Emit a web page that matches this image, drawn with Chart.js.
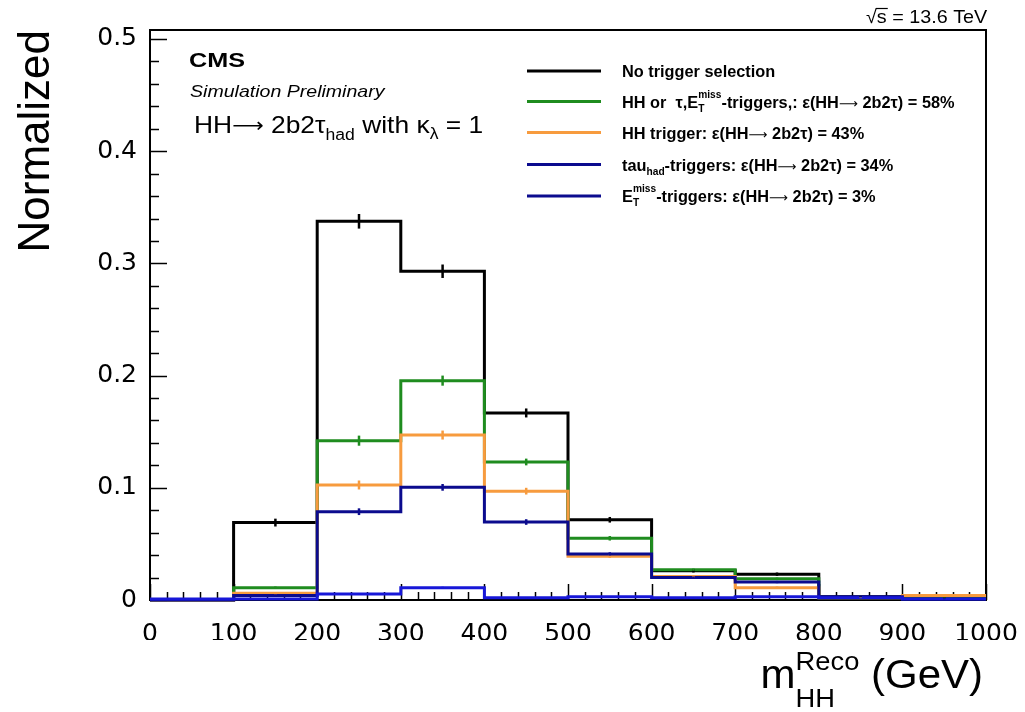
<!DOCTYPE html>
<html><head><meta charset="utf-8">
<script src="https://cdn.jsdelivr.net/npm/chart.js@4/dist/chart.umd.min.js"></script>
<style>html,body{margin:0;padding:0;background:#fff;} #wrap{width:1025px;height:712px;}</style>
</head><body><div id="wrap"><canvas id="c" width="1025" height="712"></canvas></div>
<script>
// ---- data ----
const binEdges = [0,100,200,300,400,500,600,700,800,900,1000];
const noTrigger   = [0, 0.0690, 0.3375, 0.2930, 0.1667, 0.0715, 0.0260, 0.0230, 0.0030, 0.0020];
const hhOrTauMet  = [0, 0.0110, 0.1420, 0.1955, 0.1230, 0.0550, 0.0270, 0.0190, 0.0020, 0.0020];
const hhTrigger   = [0, 0.0060, 0.1025, 0.1470, 0.0970, 0.0390, 0.0210, 0.0110, 0.0020, 0.0040];
const tauTrigger  = [0, 0.0040, 0.0787, 0.1004, 0.0695, 0.0410, 0.0200, 0.0160, 0.0030, 0.0010];
const metTrigger  = [0.0010, 0.0010, 0.0053, 0.0110, 0.0020, 0.0030, 0.0020, 0.0030, 0.0020, 0.0010];
const errNoTrigger  = [0, 0.0035, 0.0065, 0.0060, 0.0040, 0.0025, 0.0015, 0.0015, 0.0005, 0.0005];
const errHhOrTauMet = [0, 0.0010, 0.0045, 0.0045, 0.0030, 0.0020, 0.0010, 0.0010, 0.0003, 0.0003];
const errHhTrigger  = [0, 0.0010, 0.0040, 0.0040, 0.0030, 0.0015, 0.0010, 0.0010, 0.0003, 0.0003];
const errTauTrigger = [0, 0.0010, 0.0030, 0.0030, 0.0025, 0.0015, 0.0010, 0.0010, 0.0003, 0.0003];
const errMetTrigger = [0, 0, 0.0005, 0.0008, 0.0004, 0.0004, 0.0003, 0.0003, 0.0002, 0.0002];
const xTickValues = [0,100,200,300,400,500,600,700,800,900,1000];
const yTickValues = [0,0.1,0.2,0.3,0.4,0.5];
const seriesNames = ['No trigger selection','HH or tau,MET-triggers','HH trigger','tau_had-triggers','MET-triggers'];

// ---- styles ----
const colors = ['#000000','#1f8c1f','#f79b3e','#0b0b8e','#1717d8'];
const F = '"Liberation Sans", Arial, sans-serif';
const FA = '"DejaVu Sans", sans-serif';

function stepPoints(vals){
  const pts = vals.map((v,i)=>({x:binEdges[i], y:v}));
  pts.push({x:binEdges[binEdges.length-1], y:vals[vals.length-1]});
  return pts;
}
const allVals = [noTrigger, hhOrTauMet, hhTrigger, tauTrigger, metTrigger];
const allErrs = [errNoTrigger, errHhOrTauMet, errHhTrigger, errTauTrigger, errMetTrigger];

// rich text: parts = [{t,f,dy}] or {sub,sup,f,dySub,dySup}
function drawRich(ctx, x, y, parts, sx, align){
  ctx.save();
  const widths = parts.map(p=>{
    ctx.font = p.f;
    if (p.t !== undefined) return ctx.measureText(p.t).width;
    return Math.max(ctx.measureText(p.sub||'').width, ctx.measureText(p.sup||'').width);
  });
  const w = widths.reduce((a,b)=>a+b,0);
  const x0 = align==='right' ? x - w*sx : x;
  ctx.translate(x0, y); ctx.scale(sx,1);
  ctx.textAlign='left'; ctx.textBaseline='alphabetic';
  let cx = 0;
  parts.forEach((p,i)=>{
    ctx.font = p.f;
    if (p.t !== undefined){ ctx.fillText(p.t, cx, p.dy||0); }
    else {
      if (p.sub) ctx.fillText(p.sub, cx, p.dySub);
      if (p.sup) ctx.fillText(p.sup, cx, p.dySup);
    }
    cx += widths[i];
  });
  ctx.restore();
}

const decorPlugin = {
  id:'decor',
  beforeDatasetsDraw(chart){
    const {ctx, chartArea:a, scales:{x,y}} = chart;
    ctx.save();
    ctx.strokeStyle='#000'; ctx.lineWidth=1.5;
    for (let k=0; k<=50; k++){
      const v = k*20;
      const px = Math.round(x.getPixelForValue(v))+0.5;
      const major = k%5===0;
      ctx.beginPath(); ctx.moveTo(px, a.bottom); ctx.lineTo(px, a.bottom-(major?16:8)); ctx.stroke();
    }
    for (let k=0; k<=25; k++){
      const v = k*0.02;
      const py = Math.round(y.getPixelForValue(v))+0.5;
      const major = k%5===0;
      ctx.beginPath(); ctx.moveTo(a.left, py); ctx.lineTo(a.left+(major?17:9), py); ctx.stroke();
    }
    ctx.lineWidth=2;
    ctx.strokeRect(a.left, a.top, a.right-a.left, a.bottom-a.top);
    ctx.restore();
  },
  afterDatasetsDraw(chart){
    const {ctx, scales:{x,y}} = chart;
    ctx.save();
    ctx.lineWidth = 2.5;
    allVals.forEach((vals,si)=>{
      ctx.strokeStyle = colors[si];
      vals.forEach((v,i)=>{
        const e = allErrs[si][i];
        if (!e) return;
        const cx = x.getPixelForValue((binEdges[i]+binEdges[i+1])/2);
        ctx.beginPath();
        ctx.moveTo(cx, y.getPixelForValue(v-e));
        ctx.lineTo(cx, y.getPixelForValue(v+e));
        ctx.stroke();
      });
    });
    ctx.restore();
  },
  afterDraw(chart){
    const {ctx} = chart;
    ctx.save();
    ctx.fillStyle='#000'; ctx.strokeStyle='#000';
    // sqrt(s)
    ctx.save();
    ctx.translate(866, 23); ctx.scale(1.04,1);
    ctx.font = '19px '+F; ctx.textAlign='left'; ctx.textBaseline='alphabetic';
    const w1 = ctx.measureText('√').width;
    ctx.fillText('√s = 13.6 TeV', 0, 0);
    const ws = ctx.measureText('s').width;
    ctx.lineWidth=1.2; ctx.beginPath(); ctx.moveTo(w1-1, -14.5); ctx.lineTo(w1+ws+1, -14.5); ctx.stroke();
    ctx.restore();
    // CMS texts
    drawRich(ctx, 189, 67, [{t:'CMS', f:'bold 21px '+F}], 1.2);
    drawRich(ctx, 190, 97, [{t:'Simulation Preliminary', f:'italic 17px '+F}], 1.15);
    drawRich(ctx, 194, 133, [
      {t:'HH', f:'24px '+F},
      {t:'⟶', f:'20px '+FA, dy:-1},
      {t:' 2b2τ', f:'24px '+F},
      {t:'had', f:'16px '+F, dy:7},
      {t:' with κ', f:'24px '+F},
      {t:'λ', f:'16px '+F, dy:6},
      {t:' = 1', f:'24px '+F}
    ], 1.1);
    // y title
    ctx.save();
    ctx.translate(49, 30); ctx.rotate(-Math.PI/2);
    ctx.font = '44px '+F; ctx.textAlign='right'; ctx.textBaseline='alphabetic';
    ctx.fillText('Normalized', 0, 0);
    ctx.restore();
    // x title
    drawRich(ctx, 983, 688, [
      {t:'m', f:'40px '+F},
      {sub:'HH', sup:'Reco', f:'26px '+F, dySub:19, dySup:-18},
      {t:' (GeV)', f:'40px '+F}
    ], 1.05, 'right');
    // legend
    const B = 'bold 16px '+F, S = 'bold 10px '+F, A = '13px '+FA;
    const rows = [
      [{t:'No trigger selection', f:B}],
      [{t:'HH or  τ,E', f:B},{sub:'T', sup:'miss', f:S, dySub:4, dySup:-10},{t:'-triggers,: ε(HH', f:B},{t:'⟶', f:A},{t:' 2b2τ) = 58%', f:B}],
      [{t:'HH trigger: ε(HH', f:B},{t:'⟶', f:A},{t:' 2b2τ) = 43%', f:B}],
      [{t:'tau', f:B},{t:'had', f:S, dy:4},{t:'-triggers: ε(HH', f:B},{t:'⟶', f:A},{t:' 2b2τ) = 34%', f:B}],
      [{t:'E', f:B},{sub:'T', sup:'miss', f:S, dySub:4, dySup:-10},{t:'-triggers: ε(HH', f:B},{t:'⟶', f:A},{t:' 2b2τ) = 3%', f:B}]
    ];
    const rowY = [71, 101.5, 132.5, 164.5, 196];
    const lineColors = [colors[0], colors[1], colors[2], colors[3], colors[3]];
    rows.forEach((r,i)=>{
      ctx.strokeStyle = lineColors[i]; ctx.lineWidth = 3;
      ctx.beginPath(); ctx.moveTo(527, rowY[i]); ctx.lineTo(601, rowY[i]); ctx.stroke();
      ctx.fillStyle='#000';
      drawRich(ctx, 622, rowY[i]+6, r, 1.02);
    });
    ctx.restore();
  }
};

const datasets = allVals.map((vals,i)=>({
  label: seriesNames[i],
  data: stepPoints(vals),
  borderColor: colors[i],
  backgroundColor: colors[i],
  borderWidth: 3,
  pointRadius: 0,
  fill: false,
  stepped: true,
  order: 5-i,
  clip: 3
}));

new Chart(document.getElementById('c'), {
  type:'line',
  data:{datasets},
  options:{
    responsive:false, animation:false, devicePixelRatio:1,
    layout:{padding:{left:0, top:30, right:39, bottom:72}},
    plugins:{legend:{display:false}, tooltip:{enabled:false}},
    scales:{
      x:{type:'linear', min:0, max:1000,
        afterFit:s=>{s.height=40; s.paddingLeft=0; s.paddingRight=0;},
        afterBuildTicks:s=>{s.ticks = xTickValues.map(v=>({value:v}));},
        grid:{display:false, drawTicks:false}, border:{display:false},
        ticks:{font:{family:'"DejaVu Sans"', size:25}, color:'#000', padding:19, maxRotation:0, autoSkip:false, callback:v=>String(v)}},
      y:{type:'linear', min:0, max:0.508,
        afterFit:s=>{s.width=150; s.paddingTop=0; s.paddingBottom=0;},
        afterBuildTicks:s=>{s.ticks = yTickValues.map(v=>({value:v}));},
        grid:{display:false, drawTicks:false}, border:{display:false},
        ticks:{font:{family:'"DejaVu Sans"', size:25}, color:'#000', padding:13, autoSkip:false, callback:v=>String(+(+v).toFixed(1))}}
    }
  },
  plugins:[decorPlugin]
});
</script></body></html>
